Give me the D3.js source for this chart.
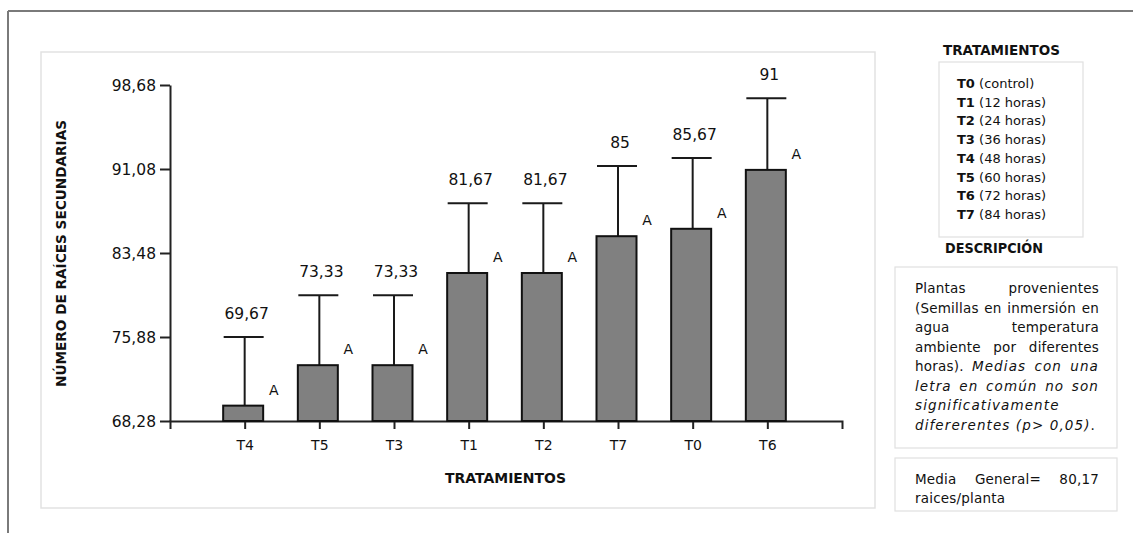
<!DOCTYPE html>
<html>
<head>
<meta charset="utf-8">
<script src="https://cdn.jsdelivr.net/npm/d3@7"></script>
<style>
  html, body { margin: 0; padding: 0; background: #fff; }
  svg { display: block; }
  text { font-family: "DejaVu Sans", Lato, sans-serif; fill: #111; }
</style>
</head>
<body>
<svg id="chart" width="1133" height="533"></svg>
<script>
// ---------- data ----------
const categories = ["T4", "T5", "T3", "T1", "T2", "T7", "T0", "T6"];
const means      = [69.67, 73.33, 73.33, 81.67, 81.67, 85, 85.67, 91];
const errors     = [6.21, 6.32, 6.32, 6.31, 6.31, 6.36, 6.41, 6.48];
const groups     = ["A", "A", "A", "A", "A", "A", "A", "A"];
const yTicks     = [68.28, 75.88, 83.48, 91.08, 98.68];
const yDomain    = [68.28, 98.68];
const treatCodes = ["T0", "T1", "T2", "T3", "T4", "T5", "T6", "T7"];
const treatDesc  = ["(control)", "(12 horas)", "(24 horas)", "(36 horas)", "(48 horas)", "(60 horas)", "(72 horas)", "(84 horas)"];
const xTitle = "TRATAMIENTOS";
const yTitle = "NÚMERO DE RAÍCES SECUNDARIAS";
const legendTitle = "TRATAMIENTOS";
const descTitle = "DESCRIPCIÓN";
// description lines: each word [text, italic]
const descLines = [
  [["Plantas",0],["provenientes",0]],
  [["(Semillas",0],["en",0],["inmersión",0],["en",0]],
  [["agua",0],["temperatura",0]],
  [["ambiente",0],["por",0],["diferentes",0]],
  [["horas).",0],["Medias",1],["con",1],["una",1]],
  [["letra",1],["en",1],["común",1],["no",1],["son",1]],
  [["significativamente",1]],
  [["difererentes (p> 0,05)",1],[".",0]]
];
const descJustify = [1,1,1,1,1,1,0,0];
const meanLines = [[["Media",0],["General=",0],["80,17",0]], [["raices/planta",0]]];
const meanJustify = [1,0];

// ---------- helpers ----------
const comma = v => String(v).replace(".", ",");
const svg = d3.select("#chart");

// outer frame
svg.append("line").attr("x1", 8).attr("x2", 1133).attr("y1", 11).attr("y2", 11)
  .attr("stroke", "#7a7a7a").attr("stroke-width", 2);
svg.append("line").attr("x1", 8).attr("x2", 8).attr("y1", 11).attr("y2", 533)
  .attr("stroke", "#7a7a7a").attr("stroke-width", 2);

// chart panel
const panel = {x: 41, y: 52, w: 834, h: 456};
svg.append("rect").attr("x", panel.x).attr("y", panel.y).attr("width", panel.w).attr("height", panel.h)
  .attr("fill", "#fff").attr("stroke", "#e2e2e2").attr("stroke-width", 1.5);

// scales
const plot = {left: 170, right: 842, top: 85, bottom: 421};
const x = d3.scalePoint().domain(categories).range([plot.left, plot.right]).padding(1);
const y = d3.scaleLinear().domain(yDomain).range([plot.bottom, plot.top]);

// y axis
const yAxis = svg.append("g").attr("transform", `translate(${plot.left},0)`)
  .call(d3.axisLeft(y).tickValues(yTicks).tickFormat(d => d3.format(".2f")(d).replace(".", ","))
    .tickSize(10).tickSizeOuter(0).tickPadding(4));
yAxis.select(".domain").attr("stroke", "#222").attr("stroke-width", 2);
yAxis.selectAll(".tick line").attr("stroke", "#222").attr("stroke-width", 2);
yAxis.selectAll(".tick text").style("font-size", "15.5px").style("font-family", "'DejaVu Sans', sans-serif")
  .attr("fill", "#111").attr("dy", "0.36em");

// x axis
const xAxis = svg.append("g").attr("transform", `translate(0,${plot.bottom})`)
  .call(d3.axisBottom(x).tickSize(8).tickSizeOuter(8).tickPadding(11));
xAxis.select(".domain").attr("stroke", "#222").attr("stroke-width", 2);
xAxis.selectAll(".tick line").attr("stroke", "#222").attr("stroke-width", 2);
xAxis.selectAll(".tick text").style("font-size", "14px").style("font-family", "'DejaVu Sans', sans-serif").attr("fill", "#111");

// bars
const bw = 40;
const data = categories.map((c, i) => ({c, m: means[i], e: errors[i], g: groups[i]}));
const g = svg.append("g");
// error bars
g.selectAll(".err").data(data).join("line")
  .attr("x1", d => x(d.c)).attr("x2", d => x(d.c))
  .attr("y1", d => y(d.m)).attr("y2", d => y(d.m + d.e))
  .attr("stroke", "#1a1a1a").attr("stroke-width", 2);
g.selectAll(".cap").data(data).join("line")
  .attr("x1", d => x(d.c) - bw / 2 - 1).attr("x2", d => x(d.c) + bw / 2 - 1)
  .attr("y1", d => y(d.m + d.e)).attr("y2", d => y(d.m + d.e))
  .attr("stroke", "#1a1a1a").attr("stroke-width", 2);
g.selectAll(".bar").data(data).join("rect")
  .attr("x", d => x(d.c) - bw / 2 - 1.5).attr("width", bw)
  .attr("y", d => y(d.m)).attr("height", d => y(yDomain[0]) - y(d.m))
  .attr("fill", "#808080").attr("stroke", "#111").attr("stroke-width", 2);
// value labels
g.selectAll(".val").data(data).join("text")
  .attr("x", d => x(d.c) + 2).attr("y", d => y(d.m + d.e) - 18)
  .attr("text-anchor", "middle").style("font-size", "15.5px")
  .text(d => comma(d.m));
// group letters
g.selectAll(".grp").data(data).join("text")
  .attr("x", d => x(d.c) + 29).attr("y", d => y(d.m) - 11)
  .attr("text-anchor", "middle").style("font-size", "14px")
  .text(d => d.g);

// axis titles
svg.append("text").attr("x", 505.5).attr("y", 483).attr("text-anchor", "middle")
  .style("font-size", "13.5px").style("font-weight", "bold")
  .attr("textLength", 121).attr("lengthAdjust", "spacingAndGlyphs").text(xTitle);
svg.append("text").attr("transform", "translate(66,253.5) rotate(-90)").attr("text-anchor", "middle")
  .style("font-size", "13.5px").style("font-weight", "bold")
  .attr("textLength", 267).attr("lengthAdjust", "spacingAndGlyphs").text(yTitle);

// ---------- right panel ----------
svg.append("text").attr("x", 1001.5).attr("y", 55).attr("text-anchor", "middle")
  .style("font-size", "13.5px").style("font-weight", "bold")
  .attr("textLength", 117).attr("lengthAdjust", "spacingAndGlyphs").text(legendTitle);
svg.append("rect").attr("x", 939).attr("y", 62).attr("width", 144).attr("height", 175)
  .attr("fill", "#fff").attr("stroke", "#e0e0e0").attr("stroke-width", 1.2);
treatCodes.forEach((code, i) => {
  const t = svg.append("text").attr("x", 957).attr("y", 88 + i * 18.7).style("font-size", "13px");
  t.append("tspan").style("font-weight", "bold").text(code);
  t.append("tspan").text(" " + treatDesc[i]);
});

svg.append("text").attr("x", 994).attr("y", 253).attr("text-anchor", "middle")
  .style("font-size", "13.5px").style("font-weight", "bold")
  .attr("textLength", 98).attr("lengthAdjust", "spacingAndGlyphs").text(descTitle);

svg.append("rect").attr("x", 895).attr("y", 267).attr("width", 222).attr("height", 181)
  .attr("fill", "#fff").attr("stroke", "#e0e0e0").attr("stroke-width", 1.2);
svg.append("rect").attr("x", 895).attr("y", 458).attr("width", 222).attr("height", 53)
  .attr("fill", "#fff").attr("stroke", "#e0e0e0").attr("stroke-width", 1.2);

function drawLines(lines, justify, x0, x1, y0, dy, size) {
  lines.forEach((words, li) => {
    const yy = y0 + li * dy;
    const nodes = words.map(([w, it]) =>
      svg.append("text").attr("y", yy).style("font-size", size + "px")
        .style("font-style", it ? "italic" : "normal")
        .style("letter-spacing", it ? "1.1px" : "0.2px").text(w));
    const widths = nodes.map(n => n.node().getComputedTextLength());
    const total = d3.sum(widths);
    let gap = null;
    if (justify[li] && words.length > 1) gap = (x1 - x0 - total) / (words.length - 1);
    let cx = x0;
    nodes.forEach((n, i) => {
      n.attr("x", cx);
      if (gap !== null) cx += widths[i] + gap;
      else {
        const next = words[i + 1];
        cx += widths[i] + (next && next[0] === "." ? 0 : size * 0.32);
      }
    });
  });
}
drawLines(descLines, descJustify, 915, 1099, 293, 19.5, 13.5);
drawLines(meanLines, meanJustify, 915, 1099, 484, 19, 13.5);
</script>
</body>
</html>
